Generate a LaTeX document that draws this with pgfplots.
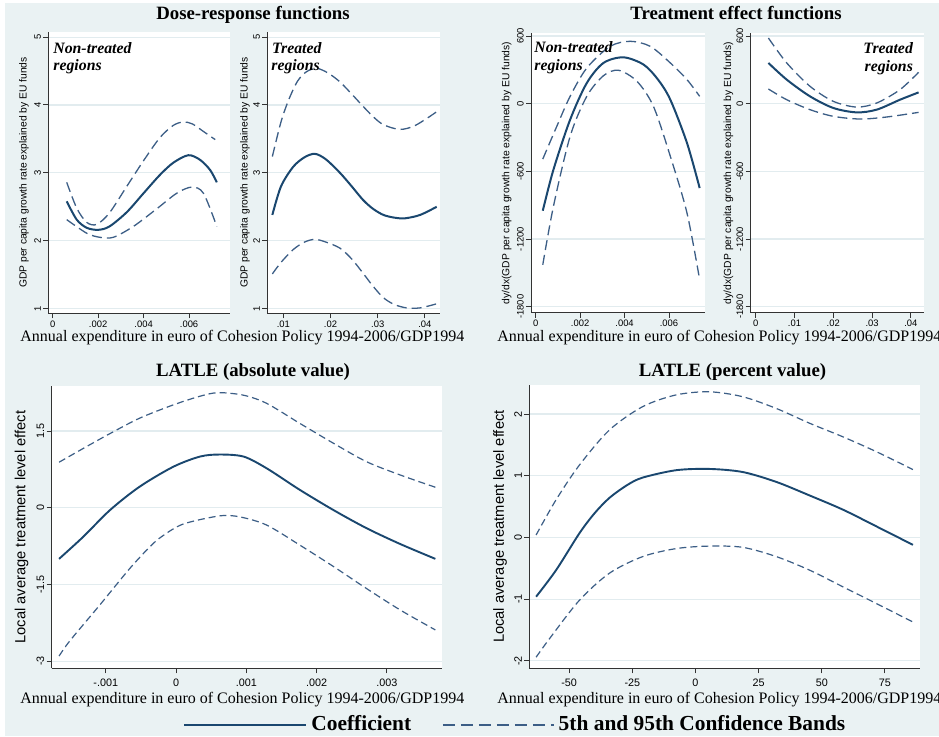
\documentclass[border=0pt]{standalone}
\usepackage{fontspec}
\setmainfont{Liberation Serif}
\setsansfont{Liberation Sans}
\usepackage{pgfplots}
\pgfplotsset{compat=1.18}
\definecolor{bgblue}{RGB}{234,242,243}
\definecolor{gridblue}{RGB}{226,236,239}
\definecolor{navy}{RGB}{26,71,111}
\definecolor{navylt}{RGB}{60,94,134}

\pgfplotsset{
  panel/.style={
    scale only axis, anchor=south west,
    axis x line*=bottom, axis y line*=left,
    axis line style={black!80, line width=0.5pt},
    axis background/.style={fill=white},
    tick align=outside, major tick length=2.5pt,
    tick style={black!80, line width=0.5pt},
    ymajorgrids, grid style={gridblue, line width=0.6pt},
    scaled ticks=false,
    /pgf/number format/assume math mode=true,
    yticklabel style={rotate=90, anchor=south, inner sep=1pt},
    xticklabel style={inner sep=1pt},
    ylabel style={anchor=center},
  },
  toprow/.style={
    tick label style={font=\sffamily\fontsize{4.7}{5}\selectfont},
    label style={font=\sffamily\fontsize{5.15}{6}\selectfont},
    coef/.style={navy, line width=1pt, smooth},
    band/.style={navylt, line width=0.65pt, dash pattern=on 5pt off 2.5pt, smooth},
  },
  botrow/.style={
    tick label style={font=\sffamily\fontsize{5.4}{6}\selectfont},
    label style={font=\sffamily\fontsize{7.35}{8}\selectfont},
    xticklabel style={inner sep=2.5pt},
    coef/.style={navy, line width=0.95pt, smooth},
    band/.style={navylt, line width=0.6pt, dash pattern=on 3.5pt off 2pt, smooth},
  },
}

\begin{document}
\begin{tikzpicture}
\useasboundingbox (0,0) rectangle (469.5pt,368pt);
\clip (0,0) rectangle (469.5pt,368pt);
\fill[white] (0,0) rectangle (469.5pt,368pt);
\fill[bgblue] (2.5pt,0) rectangle (469.5pt,366.5pt);

% Dose-response, non-treated
\begin{axis}[panel, toprow, at={(24.15pt,211.35pt)}, width=90.85pt, height=140.8pt,
  xmin=-0.00019, xmax=0.0078, ymin=0.93, ymax=5.08,
  xtick={0,0.002,0.004,0.006}, xticklabels={0,.002,.004,.006},
  ytick={1,2,3,4,5}, yticklabels={1,2,3,4,5},
  ylabel={GDP per capita growth rate explained by EU funds},
  ylabel style={at={(axis description cs:-0.134,0.5)}}]
\addplot[coef] coordinates {(0.00062,2.58)(0.00106,2.31)(0.0015,2.19)(0.002,2.16)(0.0025,2.21)(0.00326,2.42)(0.004,2.70)(0.00472,2.97)(0.00531,3.15)(0.00597,3.26)(0.00649,3.19)(0.00693,3.04)(0.00722,2.86)};
\addplot[band] coordinates {(0.00062,2.86)(0.00106,2.48)(0.0015,2.27)(0.00194,2.24)(0.0025,2.41)(0.00326,2.80)(0.004,3.18)(0.00472,3.52)(0.00531,3.70)(0.00575,3.75)(0.00615,3.72)(0.00663,3.61)(0.00715,3.49)};
\addplot[band] coordinates {(0.00062,2.31)(0.0015,2.11)(0.00208,2.05)(0.00267,2.05)(0.00355,2.21)(0.00458,2.47)(0.00546,2.70)(0.00612,2.79)(0.00663,2.70)(0.00722,2.21)};
\end{axis}

% Dose-response, treated
\begin{axis}[panel, toprow, at={(133.65pt,211.35pt)}, width=86.35pt, height=140.8pt,
  xmin=0.0066, xmax=0.0432, ymin=0.93, ymax=5.08,
  xtick={0.01,0.02,0.03,0.04}, xticklabels={.01,.02,.03,.04},
  ytick={1,2,3,4,5}, yticklabels={1,2,3,4,5},
  ylabel={GDP per capita growth rate explained by EU funds},
  ylabel style={at={(axis description cs:-0.129,0.5)}}]
\addplot[coef] coordinates {(0.00767,2.38)(0.0095,2.80)(0.0121,3.09)(0.0145,3.23)(0.0167,3.28)(0.019,3.20)(0.022,3.00)(0.0245,2.80)(0.0269,2.60)(0.029,2.47)(0.0312,2.38)(0.0335,2.34)(0.0358,2.33)(0.039,2.38)(0.0425,2.50)};
\addplot[band] coordinates {(0.00767,3.24)(0.0095,3.75)(0.0111,4.07)(0.013,4.35)(0.0149,4.49)(0.0171,4.54)(0.0195,4.47)(0.022,4.34)(0.0245,4.16)(0.0269,3.98)(0.029,3.83)(0.0312,3.71)(0.0347,3.64)(0.038,3.70)(0.0425,3.90)};
\addplot[band] coordinates {(0.00767,1.51)(0.0095,1.68)(0.0121,1.87)(0.0145,1.98)(0.0167,2.02)(0.019,1.98)(0.022,1.89)(0.0245,1.73)(0.0269,1.52)(0.029,1.33)(0.0312,1.16)(0.0335,1.06)(0.0361,1.01)(0.039,1.01)(0.0425,1.07)};
\end{axis}

% Treatment effect, non-treated
\begin{axis}[panel, toprow, at={(265.5pt,211.65pt)}, width=87pt, height=139.7pt,
  xmin=-0.00021, xmax=0.00762, ymin=-1853, ymax=624,
  xtick={0,0.002,0.004,0.006}, xticklabels={0,.002,.004,.006},
  ytick={-1800,-1200,-600,0,600}, yticklabels={-1800,-1200,-600,0,600},
  ylabel={dy/dx(GDP per capita growth rate explained by EU funds)},
  ylabel style={at={(axis description cs:-0.14,0.5)}}]
\addplot[coef] coordinates {(0.00032,-949)(0.0008,-585)(0.00155,-142)(0.0023,183)(0.00305,361)(0.00395,411)(0.00486,346)(0.0055,215)(0.00606,35)(0.00681,-349)(0.00738,-748)};
\addplot[band] coordinates {(0.00032,-491)(0.00095,-201)(0.00155,65)(0.0023,316)(0.00335,508)(0.00426,553)(0.00516,508)(0.00606,361)(0.00681,213)(0.00738,65)};
\addplot[band] coordinates {(0.00032,-1428)(0.0008,-910)(0.00155,-290)(0.0023,65)(0.00305,248)(0.00373,296)(0.00456,198)(0.0053,-24)(0.00606,-467)(0.00681,-970)(0.00738,-1561)};
\end{axis}

% Treatment effect, treated
\begin{axis}[panel, toprow, at={(375.35pt,211.65pt)}, width=86.65pt, height=139.7pt,
  xmin=-0.0013, xmax=0.0434, ymin=-1853, ymax=624,
  xtick={0,0.01,0.02,0.03,0.04}, xticklabels={0,.01,.02,.03,.04},
  ytick={-1800,-1200,-600,0,600}, yticklabels={-1800,-1200,-600,0,600},
  ylabel={dy/dx(GDP per capita growth rate explained by EU funds)},
  ylabel style={at={(axis description cs:-0.129,0.5)}}]
\addplot[coef] coordinates {(0.00327,361)(0.008,213)(0.014,65)(0.02,-38)(0.026,-77)(0.0312,-53)(0.0372,35)(0.042,100)};
\addplot[band] coordinates {(0.00327,582)(0.008,361)(0.014,154)(0.02,21)(0.026,-30)(0.0312,6)(0.0372,124)(0.042,278)};
\addplot[band] coordinates {(0.00327,130)(0.008,35)(0.014,-53)(0.02,-112)(0.0269,-136)(0.0338,-118)(0.042,-77)};
\end{axis}

% LATLE absolute
\begin{axis}[panel, botrow, at={(25.85pt,33.85pt)}, width=195pt, height=141.15pt,
  xmin=-0.00177, xmax=0.00378, ymin=-3.14, ymax=2.38,
  xtick={-0.001,0,0.001,0.002,0.003}, xticklabels={-.001,0,.001,.002,.003},
  ytick={-3,-1.5,0,1.5}, yticklabels={-3,-1.5,0,1.5},
  ylabel={Local average treatment level effect},
  ylabel style={at={(axis description cs:-0.077,0.5)}}]
\addplot[coef] coordinates {(-0.001665,-1.0)(-0.00132,-0.567)(-0.00094,-0.046)(-0.00052,0.41)(-0.000041,0.80)(0.00034,1.0)(0.00062,1.04)(0.00096,1.0)(0.00129,0.77)(0.00176,0.35)(0.00224,-0.046)(0.00271,-0.40)(0.00319,-0.71)(0.00369,-1.0)};
\addplot[band] coordinates {(-0.001665,0.89)(-0.00132,1.16)(-0.00094,1.45)(-0.00052,1.75)(-0.000041,2.01)(0.00034,2.18)(0.0006,2.25)(0.00096,2.2)(0.00129,2.04)(0.00176,1.65)(0.00224,1.26)(0.00271,0.90)(0.00319,0.64)(0.00369,0.40)};
\addplot[band] coordinates {(-0.001665,-2.90)(-0.00151,-2.60)(-0.00109,-1.91)(-0.00066,-1.19)(-0.00037,-0.76)(-0.0002,-0.56)(0.0001,-0.32)(0.00062,-0.16)(0.00091,-0.18)(0.00129,-0.34)(0.00176,-0.73)(0.00224,-1.15)(0.00271,-1.58)(0.00319,-2.0)(0.00369,-2.39)};
\end{axis}

% LATLE percent
\begin{axis}[panel, botrow, at={(264.65pt,33.85pt)}, width=195.35pt, height=141.65pt,
  xmin=-65.8, xmax=88.9, ymin=-2.12, ymax=2.47,
  xtick={-50,-25,0,25,50,75}, xticklabels={-50,-25,0,25,50,75},
  ytick={-2,-1,0,1,2}, yticklabels={-2,-1,0,1,2},
  ylabel={Local average treatment level effect},
  ylabel style={at={(axis description cs:-0.075,0.5)}},
  legend style={at={(axis description cs:-0.886,-0.2)}, anchor=west, draw=none, fill=none,
    legend columns=2, inner sep=0pt, column sep=0pt,
    font=\rmfamily\bfseries\fontsize{10.7}{12}\selectfont,
    /tikz/every even column/.append style={column sep=13.5pt}},
  legend image code/.code={\draw[#1] (0pt,0pt) -- (61pt,0pt);}]
\addplot[coef] coordinates {(-63.1,-0.96)(-55.2,-0.53)(-46,0.065)(-40,0.39)(-34.1,0.64)(-27,0.85)(-20.9,0.97)(-7.6,1.09)(5.5,1.11)(18.7,1.06)(32,0.90)(45.2,0.68)(58.4,0.45)(71.6,0.18)(86.1,-0.12)};
\addlegendentry{Coefficient}
\addplot[band, legend image code/.code={\draw[navylt, line width=0.75pt, dash pattern=on 6pt off 3pt] (0pt,0pt) -- (55.5pt,0pt);}] coordinates {(-63.1,0.04)(-55.2,0.61)(-46,1.17)(-34.1,1.74)(-20.9,2.12)(-7.6,2.31)(5.5,2.36)(18.7,2.28)(32,2.09)(45.2,1.85)(58.4,1.63)(71.6,1.39)(86.1,1.10)};
\addlegendentry{5th and 95th Confidence Bands}
\addplot[band, forget plot] coordinates {(-63.1,-1.94)(-57.8,-1.64)(-46,-1.02)(-34.1,-0.58)(-20.9,-0.31)(-7.6,-0.18)(5.5,-0.14)(18.7,-0.16)(32,-0.31)(45.2,-0.53)(58.4,-0.80)(71.6,-1.07)(86.1,-1.37)};
\end{axis}

% titles and shared texts
\begin{scope}[every node/.style={inner sep=0pt}]
\node[anchor=base, font=\bfseries\fontsize{9.4}{11}\selectfont] at (126.5pt,358.35pt) {Dose-response functions};
\node[anchor=base, font=\bfseries\fontsize{9.4}{11}\selectfont] at (368pt,358.35pt) {Treatment effect functions};
\node[anchor=base, font=\bfseries\fontsize{9.4}{11}\selectfont] at (126.5pt,180pt) {LATLE (absolute value)};
\node[anchor=base, font=\bfseries\fontsize{9.4}{11}\selectfont] at (366.25pt,180pt) {LATLE (percent value)};
\node[anchor=base west, font=\fontsize{8.0}{10}\selectfont] at (10pt,197.5pt) {Annual expenditure in euro of Cohesion Policy 1994-2006/GDP1994};
\node[anchor=base west, font=\fontsize{8.0}{10}\selectfont] at (248.5pt,197.5pt) {Annual expenditure in euro of Cohesion Policy 1994-2006/GDP1994};
\node[anchor=base west, font=\fontsize{8.0}{10}\selectfont] at (10pt,16.35pt) {Annual expenditure in euro of Cohesion Policy 1994-2006/GDP1994};
\node[anchor=base west, font=\fontsize{8.0}{10}\selectfont] at (248.5pt,16.35pt) {Annual expenditure in euro of Cohesion Policy 1994-2006/GDP1994};
\tikzset{inset/.style={font=\bfseries\itshape\fontsize{7.9}{9}\selectfont}}
\node[inset, anchor=base west] at (26.5pt,341.35pt) {Non-treated};
\node[inset, anchor=base west] at (26.5pt,332.65pt) {regions};
\node[inset, anchor=base west] at (135.85pt,341.35pt) {Treated};
\node[inset, anchor=base west] at (135.5pt,332.65pt) {regions};
\node[inset, anchor=base west] at (267pt,341.65pt) {Non-treated};
\node[inset, anchor=base west] at (267pt,332.65pt) {regions};
\node[inset, anchor=base east] at (456.65pt,341.35pt) {Treated};
\node[inset, anchor=base east] at (456.65pt,332.15pt) {regions};
\end{scope}
\end{tikzpicture}
\end{document}
